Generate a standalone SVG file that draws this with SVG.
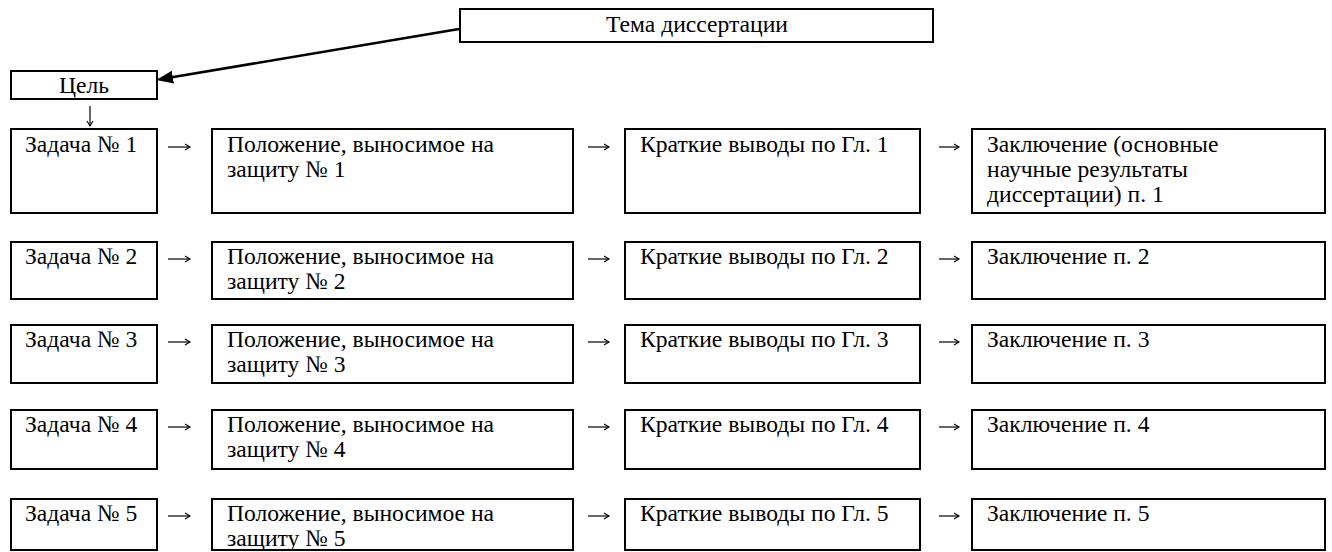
<svg xmlns="http://www.w3.org/2000/svg" width="1332" height="552" viewBox="0 0 1332 552">
<style>
  .box { fill: #ffffff; stroke: #000000; stroke-width: 2; }
  text { font-family: 'Liberation Serif', 'Times New Roman', serif; font-size: 23.6px; fill: #000000; }
  .c { text-anchor: middle; }
  .thin { fill: none; stroke: #000000; stroke-width: 1.2; marker-end: url(#open); }
  .thick { fill: none; stroke: #000000; stroke-width: 2.6; marker-end: url(#solid); }
</style>
<defs>
  <marker id="open" markerUnits="userSpaceOnUse" markerWidth="8" markerHeight="8" refX="6" refY="4" orient="auto">
    <path d="M1,1 L6,4 L1,7" fill="none" stroke="#000" stroke-width="1.1"/>
  </marker>
  <marker id="solid" markerUnits="userSpaceOnUse" markerWidth="20" markerHeight="14" refX="7" refY="6.5" orient="auto">
    <path d="M0,0 L17,6.5 L0,13 z" fill="#000"/>
  </marker>
</defs>

<g id="connectors">
  <path class="thick" d="M459,29 L166,78.3"/>
  <path class="thin" d="M90,106 V126"/>
  <path class="thin" d="M168,147 H190"/>
  <path class="thin" d="M588,147 H609"/>
  <path class="thin" d="M939,147 H959"/>
  <path class="thin" d="M168,259 H190"/>
  <path class="thin" d="M588,259 H609"/>
  <path class="thin" d="M939,259 H959"/>
  <path class="thin" d="M168,342 H190"/>
  <path class="thin" d="M588,342 H609"/>
  <path class="thin" d="M939,342 H959"/>
  <path class="thin" d="M168,427 H190"/>
  <path class="thin" d="M588,427 H609"/>
  <path class="thin" d="M939,427 H959"/>
  <path class="thin" d="M168,516 H190"/>
  <path class="thin" d="M588,516 H609"/>
  <path class="thin" d="M939,516 H959"/>
</g>

<g id="tema">
  <rect class="box" x="460" y="9" width="473" height="33"/>
  <text class="c" x="697" y="32">Тема диссертации</text>
</g>
<g id="cel">
  <rect class="box" x="11" y="71" width="146" height="28"/>
  <text class="c" x="84" y="93">Цель</text>
</g>

<!-- Row 1 -->
<g id="zadacha1">
  <rect class="box" x="11" y="129" width="146" height="84"/>
  <text x="25" y="152">Задача № 1</text>
</g>
<g id="polozhenie1">
  <rect class="box" x="212" y="129" width="361" height="84"/>
  <text x="227" y="152">Положение, выносимое на</text>
  <text x="227" y="177">защиту № 1</text>
</g>
<g id="vyvody1">
  <rect class="box" x="625" y="129" width="295" height="84"/>
  <text x="640" y="152">Краткие выводы по Гл. 1</text>
</g>
<g id="zakl1">
  <rect class="box" x="972" y="129" width="353" height="84"/>
  <text x="987" y="152">Заключение (основные</text>
  <text x="987" y="177">научные результаты</text>
  <text x="987" y="202">диссертации) п. 1</text>
</g>

<!-- Row 2 -->
<g id="zadacha2">
  <rect class="box" x="11" y="242" width="146" height="57"/>
  <text x="25" y="264">Задача № 2</text>
</g>
<g id="polozhenie2">
  <rect class="box" x="212" y="242" width="361" height="57"/>
  <text x="227" y="264">Положение, выносимое на</text>
  <text x="227" y="289">защиту № 2</text>
</g>
<g id="vyvody2">
  <rect class="box" x="625" y="242" width="295" height="57"/>
  <text x="640" y="264">Краткие выводы по Гл. 2</text>
</g>
<g id="zakl2">
  <rect class="box" x="972" y="242" width="353" height="57"/>
  <text x="987" y="264">Заключение п. 2</text>
</g>

<!-- Row 3 -->
<g id="zadacha3">
  <rect class="box" x="11" y="325" width="146" height="58"/>
  <text x="25" y="347">Задача № 3</text>
</g>
<g id="polozhenie3">
  <rect class="box" x="212" y="325" width="361" height="58"/>
  <text x="227" y="347">Положение, выносимое на</text>
  <text x="227" y="372">защиту № 3</text>
</g>
<g id="vyvody3">
  <rect class="box" x="625" y="325" width="295" height="58"/>
  <text x="640" y="347">Краткие выводы по Гл. 3</text>
</g>
<g id="zakl3">
  <rect class="box" x="972" y="325" width="353" height="58"/>
  <text x="987" y="347">Заключение п. 3</text>
</g>

<!-- Row 4 -->
<g id="zadacha4">
  <rect class="box" x="11" y="410" width="146" height="59"/>
  <text x="25" y="432">Задача № 4</text>
</g>
<g id="polozhenie4">
  <rect class="box" x="212" y="410" width="361" height="59"/>
  <text x="227" y="432">Положение, выносимое на</text>
  <text x="227" y="457">защиту № 4</text>
</g>
<g id="vyvody4">
  <rect class="box" x="625" y="410" width="295" height="59"/>
  <text x="640" y="432">Краткие выводы по Гл. 4</text>
</g>
<g id="zakl4">
  <rect class="box" x="972" y="410" width="353" height="59"/>
  <text x="987" y="432">Заключение п. 4</text>
</g>

<!-- Row 5 -->
<g id="zadacha5">
  <rect class="box" x="11" y="499" width="146" height="51"/>
  <text x="25" y="521">Задача № 5</text>
</g>
<g id="polozhenie5">
  <rect class="box" x="212" y="499" width="361" height="51"/>
  <text x="227" y="521">Положение, выносимое на</text>
  <text x="227" y="546">защиту № 5</text>
</g>
<g id="vyvody5">
  <rect class="box" x="625" y="499" width="295" height="51"/>
  <text x="640" y="521">Краткие выводы по Гл. 5</text>
</g>
<g id="zakl5">
  <rect class="box" x="972" y="499" width="353" height="51"/>
  <text x="987" y="521">Заключение п. 5</text>
</g>
</svg>
